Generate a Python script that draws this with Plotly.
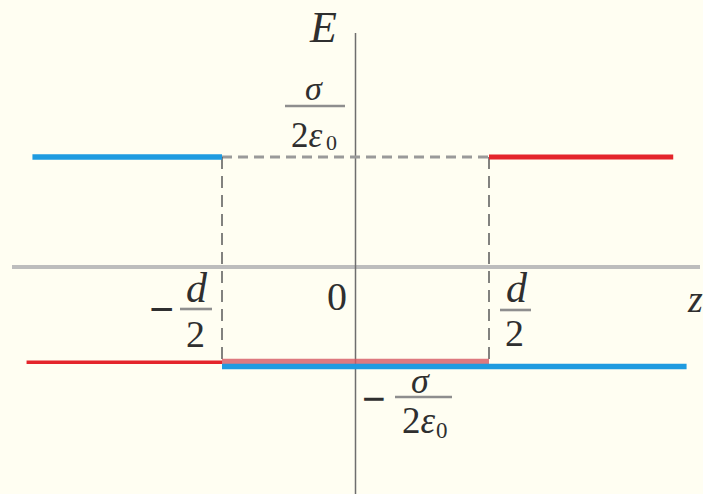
import plotly.graph_objects as go

# Field of two charged sheets at z = -d/2 and z = +d/2 (E in units of sigma / 2 eps0)
d_half = 0.5
E_up = 1.0
E_red_low = -0.865
E_blue_low = -0.905

# negative sheet at -d/2 (blue)
blue_left_z = [-1.21, -d_half]
blue_left_E = [E_up, E_up]
blue_right_z = [-d_half, 1.24]
blue_right_E = [E_blue_low, E_blue_low]

# positive sheet at +d/2 (red)
red_left_z = [-1.232, -d_half]
red_mid_z = [-d_half, d_half]
red_low_E = [E_red_low, E_red_low]
red_right_z = [d_half, 1.19]
red_right_E = [E_up, E_up]

BG = "#FFFEF2"
BLUE = "#1F9BE0"
RED = "#E4252B"
PINK = "rgba(214,88,98,0.80)"
TXT = "#2f2f2f"
SERIF = "Liberation Serif"

# pixel frame of the drawing
W, H = 703, 494
X0PX, UX = 355.5, 267.0   # z = 0 column and pixels per unit z
Y0PX, UY = 267.0, 110.0   # E = 0 row and pixels per unit E
x_rng = [(0 - X0PX) / UX, (W - X0PX) / UX]
y_rng = [(Y0PX - H) / UY, Y0PX / UY]


def px_x(p):
    return (p - X0PX) / UX


def px_y(q):
    return (Y0PX - q) / UY


fig = go.Figure()

# axes
fig.add_shape(type="line", x0=px_x(12), x1=px_x(700), y0=0, y1=0,
              line=dict(color="#BDBDBD", width=4), layer="below")
fig.add_shape(type="line", x0=0, x1=0, y0=px_y(33), y1=y_rng[0] - 0.1,
              line=dict(color="#6E6E6E", width=1.5), layer="below")

# dashed guides between the sheets
fig.add_trace(go.Scatter(x=[-d_half, d_half], y=[E_up, E_up], mode="lines",
                         line=dict(color="#9A9A9A", width=3, dash="10px,6px"),
                         hoverinfo="skip"))
for zz in (-d_half, d_half):
    fig.add_trace(go.Scatter(x=[zz, zz], y=[E_up, E_red_low], mode="lines",
                             line=dict(color="#5A5A5A", width=1.5, dash="12px,7px"),
                             hoverinfo="skip"))

# field lines
fig.add_trace(go.Scatter(x=red_left_z, y=red_low_E, mode="lines",
                         line=dict(color=RED, width=3.5), hoverinfo="skip"))
fig.add_trace(go.Scatter(x=red_mid_z, y=red_low_E, mode="lines",
                         line=dict(color=PINK, width=7), hoverinfo="skip"))
fig.add_trace(go.Scatter(x=red_right_z, y=red_right_E, mode="lines",
                         line=dict(color=RED, width=5), hoverinfo="skip"))
fig.add_trace(go.Scatter(x=blue_left_z, y=blue_left_E, mode="lines",
                         line=dict(color=BLUE, width=5.5), hoverinfo="skip"))
fig.add_trace(go.Scatter(x=blue_right_z, y=blue_right_E, mode="lines",
                         line=dict(color=BLUE, width=5.5), hoverinfo="skip"))


def label(text, xp, yp, size, xanchor="center"):
    fig.add_annotation(x=px_x(xp), y=px_y(yp), text=text, showarrow=False,
                       xanchor=xanchor, yanchor="middle",
                       font=dict(family=SERIF, size=size, color=TXT))


def bar(xa, xb, yp):
    fig.add_shape(type="line", x0=px_x(xa), x1=px_x(xb), y0=px_y(yp), y1=px_y(yp),
                  line=dict(color="#8E8E8E", width=2.6))


# axis names
label("<i>E</i>", 323, 27, 44)
label("<i>z</i>", 685, 299, 38, xanchor="left")
label("0", 337, 296, 40)

# sigma / 2 eps0 (top)
label("<i>σ</i>", 314, 88, 34)
bar(285, 345, 106)
label("2<i>ε</i>", 307, 135, 35)
label("0", 331, 142, 22)

# -d/2
label("<b>−</b>", 161, 309, 44)
label("<i>d</i>", 197, 288, 42)
bar(180, 212, 309)
label("2", 195, 334, 38)

# d/2
label("<i>d</i>", 517, 288, 42)
bar(500, 531, 310)
label("2", 514, 333, 38)

# -sigma / 2 eps0 (bottom)
label("<b>−</b>", 374, 399, 42)
label("<i>σ</i>", 420, 381, 36)
bar(395, 452, 397)
label("2<i>ε</i>", 419, 420, 37)
label("0", 442, 430, 23)

fig.update_layout(
    width=W, height=H, margin=dict(l=0, r=0, t=0, b=0),
    paper_bgcolor=BG, plot_bgcolor=BG, showlegend=False,
    xaxis=dict(range=x_rng, visible=False, fixedrange=True),
    yaxis=dict(range=y_rng, visible=False, fixedrange=True),
)

fig.write_html("out.html", config={"displayModeBar": False})
